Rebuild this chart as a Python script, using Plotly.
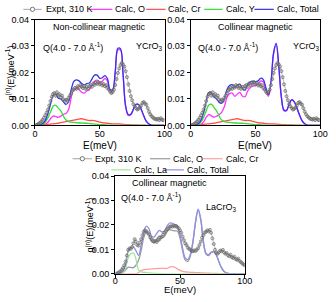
import plotly.graph_objects as go

# ---------------- data ----------------
E_calc = list(range(0, 101, 2))

# Non-collinear YCrO3
nc_O = [0, 0, 0, 0.0001, 0.0004, 0.0012, 0.0025, 0.0035, 0.0034, 0.003, 0.0035, 0.0042, 0.0045, 0.006, 0.0105,
        0.0135, 0.014, 0.0135, 0.0125, 0.0122, 0.013, 0.0135, 0.015, 0.0167, 0.0171, 0.0163, 0.0167, 0.0177, 0.0167,
        0.0127, 0.013, 0.02, 0.0285, 0.0285, 0.019, 0.007, 0.0038, 0.004, 0.006, 0.0078, 0.0078, 0.006, 0.0035,
        0.0015, 0.0005, 0.0001, 0, 0, 0, 0, 0]
nc_Cr = [0, 0, 0.0001, 0.0002, 0.0003, 0.0004, 0.0005, 0.0006, 0.0007, 0.0008, 0.001, 0.0012, 0.0014, 0.0016,
         0.0018, 0.002, 0.0022, 0.0024, 0.0025, 0.0023, 0.002, 0.0018, 0.0019, 0.0018, 0.0015, 0.0012, 0.001,
         0.0009, 0.0008, 0.0007, 0.0006, 0.0006, 0.0006, 0.0005, 0.0004, 0.0003, 0.0003, 0.0002, 0.0002, 0.0002,
         0.0001, 0.0001, 0.0001, 0, 0, 0, 0, 0, 0, 0, 0]
nc_Y = [0, 0, 0.0001, 0.0004, 0.0012, 0.0028, 0.005, 0.0072, 0.0076, 0.0065, 0.0055, 0.0035, 0.002, 0.0014, 0.0012,
        0.0011, 0.001, 0.0009, 0.0009, 0.0008, 0.0008, 0.0007, 0.0006, 0.0005, 0.0004, 0.0003, 0.0003, 0.0002,
        0.0001, 0.0001, 0, 0, 0, 0, 0, 0, 0, 0, 0, 0, 0, 0, 0, 0, 0, 0, 0, 0, 0, 0, 0]
nc_Total = [0, 0, 0.0002, 0.0007, 0.0019, 0.0044, 0.008, 0.0113, 0.0117, 0.0103, 0.01, 0.0089, 0.0079, 0.009,
            0.0135, 0.0166, 0.0172, 0.0168, 0.0159, 0.0153, 0.0158, 0.016, 0.0175, 0.019, 0.019, 0.0178, 0.018,
            0.0188, 0.0176, 0.0135, 0.0136, 0.0206, 0.0291, 0.029, 0.0194, 0.0073, 0.0041, 0.0042, 0.0062, 0.008,
            0.0079, 0.0061, 0.0036, 0.0015, 0.0005, 0.0001, 0, 0, 0, 0, 0]

# Collinear YCrO3
c_O = [0, 0, 0, 0.0001, 0.0004, 0.0013, 0.003, 0.0041, 0.0036, 0.0031, 0.0035, 0.004, 0.005, 0.007, 0.0105, 0.012,
       0.0122, 0.011, 0.0118, 0.0125, 0.011, 0.0108, 0.013, 0.0142, 0.0148, 0.015, 0.0155, 0.0167, 0.0165, 0.0135,
       0.011, 0.016, 0.027, 0.0305, 0.022, 0.0105, 0.0055, 0.0055, 0.008, 0.0095, 0.0088, 0.0065, 0.0038, 0.0017,
       0.0006, 0.0001, 0, 0, 0, 0, 0]
c_Cr = [0, 0, 0.0001, 0.0002, 0.0003, 0.0004, 0.0005, 0.0006, 0.0007, 0.0008, 0.001, 0.0012, 0.0014, 0.0016,
        0.0018, 0.002, 0.0022, 0.0024, 0.0025, 0.0023, 0.002, 0.0018, 0.0019, 0.0018, 0.0015, 0.0012, 0.001,
        0.0009, 0.0008, 0.0007, 0.0006, 0.0006, 0.0006, 0.0005, 0.0004, 0.0003, 0.0003, 0.0002, 0.0002, 0.0002,
        0.0001, 0.0001, 0.0001, 0, 0, 0, 0, 0, 0, 0, 0]
c_Y = [0, 0, 0.0001, 0.0004, 0.0013, 0.003, 0.0055, 0.0077, 0.008, 0.0068, 0.0055, 0.0035, 0.002, 0.0014, 0.0012,
       0.0011, 0.001, 0.0009, 0.0009, 0.0008, 0.0008, 0.0007, 0.0006, 0.0005, 0.0004, 0.0003, 0.0003, 0.0002,
       0.0001, 0.0001, 0, 0, 0, 0, 0, 0, 0, 0, 0, 0, 0, 0, 0, 0, 0, 0, 0, 0, 0, 0, 0]
c_Total = [0, 0, 0.0002, 0.0007, 0.002, 0.0047, 0.009, 0.0124, 0.0123, 0.0107, 0.01, 0.0087, 0.0084, 0.01, 0.0135,
           0.0151, 0.0154, 0.0143, 0.0152, 0.0156, 0.0138, 0.0133, 0.0155, 0.0165, 0.0167, 0.0165, 0.0168, 0.0178,
           0.0174, 0.0143, 0.0116, 0.0166, 0.0276, 0.031, 0.0224, 0.0108, 0.0058, 0.0057, 0.0082, 0.0097, 0.0089,
           0.0066, 0.0039, 0.0017, 0.0006, 0.0001, 0, 0, 0, 0, 0]

# Collinear LaCrO3
la_O = [0, 0.0001, 0.0002, 0.0006, 0.0015, 0.0027, 0.0026, 0.0025, 0.0035, 0.0055, 0.0094, 0.0147, 0.0172, 0.0162,
        0.0132, 0.0127, 0.0142, 0.0155, 0.0148, 0.0153, 0.0173, 0.0181, 0.0178, 0.0176, 0.0175, 0.0146, 0.0095,
        0.0057, 0.0051, 0.0074, 0.0129, 0.021, 0.026, 0.0221, 0.0131, 0.0082, 0.0075, 0.0086, 0.009, 0.0076,
        0.0049, 0.0024, 0.0009, 0.0003, 0.0001, 0, 0, 0, 0, 0, 0]
la_Cr = [0, 0, 0, 0, 0, 0, 0, 0, 0, 0.0005, 0.0013, 0.0017, 0.0018, 0.0019, 0.002, 0.0021, 0.0021, 0.0022, 0.0023,
         0.0022, 0.0022, 0.0027, 0.0029, 0.0026, 0.002, 0.0014, 0.001, 0.0008, 0.0007, 0.0006, 0.0006, 0.0005,
         0.0005, 0.0004, 0.0004, 0.0003, 0.0003, 0.0002, 0.0002, 0.0002, 0.0001, 0.0001, 0.0001, 0, 0, 0, 0, 0, 0,
         0, 0]
la_La = [0, 0, 0.0001, 0.0006, 0.0025, 0.0065, 0.0082, 0.0085, 0.006, 0.0015, 0.0008, 0.0006, 0.0005, 0.0004,
         0.0003, 0.0002, 0.0002, 0.0001, 0.0001, 0, 0, 0, 0, 0, 0, 0, 0, 0, 0, 0, 0, 0, 0, 0, 0, 0, 0, 0, 0, 0, 0,
         0, 0, 0, 0, 0, 0, 0, 0, 0, 0]
la_Total = [0, 0.0001, 0.0003, 0.0012, 0.004, 0.0092, 0.0108, 0.011, 0.0095, 0.0075, 0.0115, 0.017, 0.0195, 0.0185,
            0.0155, 0.015, 0.0165, 0.0178, 0.0172, 0.0175, 0.0195, 0.0208, 0.0207, 0.0202, 0.0195, 0.016, 0.0105,
            0.0065, 0.0058, 0.008, 0.0135, 0.0215, 0.0265, 0.0225, 0.0135, 0.0085, 0.0078, 0.0088, 0.0092, 0.0078,
            0.005, 0.0025, 0.001, 0.0003, 0.0001, 0, 0, 0, 0, 0, 0]

# Experiment, 310 K
E_y_expt = list(range(1, 100))
y_expt = [0.0001, 0.0003, 0.0006, 0.001, 0.0015, 0.0021, 0.0029, 0.0038, 0.0048, 0.006, 0.0075, 0.0092, 0.0108,
          0.0118, 0.0122, 0.0112, 0.0125, 0.0113, 0.0118, 0.0106, 0.0112, 0.0098, 0.0092, 0.0097, 0.0093, 0.0104,
          0.0112, 0.0121, 0.0132, 0.0136, 0.0142, 0.0138, 0.0148, 0.0143, 0.0152, 0.0147, 0.0141, 0.0149, 0.0138,
          0.0145, 0.0139, 0.0148, 0.0152, 0.0146, 0.0158, 0.0153, 0.0161, 0.0157, 0.0163, 0.0155, 0.0159, 0.0151,
          0.0156, 0.0148, 0.0152, 0.0141, 0.0136, 0.0128, 0.0122, 0.0126, 0.0135, 0.0152, 0.0175, 0.0198, 0.0215,
          0.0228, 0.0236, 0.023, 0.0222, 0.0205, 0.0182, 0.0155, 0.013, 0.011, 0.0095, 0.008, 0.0072, 0.0065,
          0.006, 0.0063, 0.0068, 0.0075, 0.0085, 0.0088, 0.0082, 0.0078, 0.0065, 0.0052, 0.0042, 0.0035, 0.003,
          0.0026, 0.0024, 0.0022, 0.0025, 0.002, 0.0027, 0.0022, 0.002]
E_la_expt = list(range(1, 101))
la_expt = [0.0001, 0.0003, 0.0006, 0.001, 0.0016, 0.0024, 0.0035, 0.005, 0.0075, 0.0098, 0.0104, 0.0102, 0.011,
           0.0125, 0.0142, 0.0132, 0.0118, 0.0115, 0.0128, 0.0142, 0.0158, 0.0172, 0.0178, 0.0174, 0.0168, 0.0162,
           0.015, 0.0142, 0.0136, 0.0132, 0.0135, 0.013, 0.0138, 0.0141, 0.0148, 0.0152, 0.0161, 0.0168, 0.0175,
           0.0182, 0.0186, 0.0192, 0.0195, 0.0193, 0.0197, 0.0194, 0.0196, 0.0191, 0.0186, 0.0178, 0.0168, 0.0152,
           0.0138, 0.0125, 0.0118, 0.0108, 0.0102, 0.0098, 0.0094, 0.0092, 0.0096, 0.0093, 0.0099, 0.0105, 0.0118,
           0.0132, 0.0148, 0.0158, 0.0168, 0.0172, 0.0178, 0.0174, 0.018, 0.0168, 0.0145, 0.0122, 0.0098, 0.0085,
           0.0082, 0.0088, 0.0095, 0.0092, 0.0098, 0.0088, 0.0082, 0.0085, 0.0076, 0.0072, 0.0078, 0.0068, 0.0065,
           0.007, 0.006, 0.0057, 0.0062, 0.0052, 0.0048, 0.0043, 0.0038, 0.0035]

x_ticks = [0, 50, 100]
y_ticks = [0.00, 0.01, 0.02, 0.03, 0.04]

# ---------------- figure ----------------
W, H = 336, 302
FONT = "Liberation Sans, Arial, sans-serif"

def px(x):
    return x / W

def py(y):
    return 1 - y / H

fig = go.Figure()

top_cols = dict(O="#ff33ff", Cr="#ff4d4d", X="#33dd33", Total="#3333ee")
bot_cols = dict(O="#9a9a9a", Cr="#ff9f9f", X="#9be89b", Total="#8f8fe8")

def add_panel(ax, O, Cr, X, Tot, Ex, Ey, cols, err):
    xa = "x" + ("" if ax == 1 else str(ax))
    ya = "y" + ("" if ax == 1 else str(ax))
    for ys, c in ((O, cols["O"]), (Cr, cols["Cr"]), (X, cols["X"]), (Tot, cols["Total"])):
        fig.add_trace(go.Scatter(x=E_calc, y=ys, mode="lines", line=dict(color=c, width=1.3, shape="spline"),
                                 xaxis=xa, yaxis=ya, showlegend=False, hoverinfo="skip"))
    fig.add_trace(go.Scatter(x=Ex, y=Ey, mode="lines+markers",
                             line=dict(color="#a0a0a0", width=0.7),
                             marker=dict(symbol="circle-open", size=3, color="#666666", line=dict(width=0.7)),
                             error_y=dict(type="constant", value=err, color="#8a8a8a", thickness=0.6, width=0),
                             xaxis=xa, yaxis=ya, showlegend=False, hoverinfo="skip"))

add_panel(1, nc_O, nc_Cr, nc_Y, nc_Total, E_y_expt, y_expt, top_cols, 0.0007)
add_panel(2, c_O, c_Cr, c_Y, c_Total, E_y_expt, y_expt, top_cols, 0.0007)
add_panel(3, la_O, la_Cr, la_La, la_Total, E_la_expt, la_expt, bot_cols, 0.0004)

axis_common = dict(range=[0, 100], tickvals=x_ticks, ticks="outside", ticklen=3, tickwidth=1, tickcolor="black",
                   showline=True, linecolor="black", linewidth=1, mirror=True, showgrid=False, zeroline=False,
                   tickfont=dict(size=9, color="black", family=FONT))
yaxis_common = dict(range=[0, 0.04], tickvals=y_ticks, tickformat=".2f", ticks="outside", ticklen=3, tickwidth=1,
                    tickcolor="black", showline=True, linecolor="black", linewidth=1, mirror=True, showgrid=False,
                    zeroline=False, tickfont=dict(size=9, color="black", family=FONT))

top_y = [py(124.5), py(15)]
bot_y = [py(278), py(177)]
fig.update_layout(
    xaxis=dict(domain=[px(33), px(167)], anchor="y", ticklabelstandoff=-3, **axis_common),
    yaxis=dict(domain=top_y, anchor="x", **yaxis_common),
    xaxis2=dict(domain=[px(194), px(328)], anchor="y2", ticklabelstandoff=-3, **axis_common),
    yaxis2=dict(domain=top_y, anchor="x2", **yaxis_common),
    xaxis3=dict(domain=[px(116), px(250)], anchor="y3", ticklabelstandoff=-5, **axis_common),
    yaxis3=dict(domain=bot_y, anchor="x3", **yaxis_common),
)

ann = []
def text(x, y, s, size=9, xanchor="left", angle=0, yanchor="middle"):
    ann.append(dict(x=px(x), y=py(y), xref="paper", yref="paper", text=s, showarrow=False, xanchor=xanchor,
                    yanchor=yanchor, textangle=angle, font=dict(size=size, color="black", family=FONT)))

ytitle = "g<sup>(n)</sup>(E)(meV<sup>-1</sup>)"
# panel labels
text(100, 23, "Non-collinear magnetic", xanchor="center")
text(39, 43, "Q(4.0 - 7.0 Å<sup>-1</sup>)")
text(135, 43, "YCrO<sub>3</sub>")
text(261, 23, "Collinear magnetic", xanchor="center")
text(200, 43, "Q(4.0 - 7.0 Å<sup>-1</sup>)")
text(298, 43, "YCrO<sub>3</sub>")
text(172, 184, "Collinear magnetic", xanchor="center")
text(120, 199, "Q(4.0 - 7.0 Å<sup>-1</sup>)")
text(208, 209, "LaCrO<sub>3</sub>")
# axis titles
text(7, 70, ytitle, xanchor="center", angle=-90)
text(90, 228, ytitle, xanchor="center", angle=-90)
text(100, 145, "E(meV)", size=10, xanchor="center")
text(261, 145, "E(meV)", size=10, xanchor="center")
text(183, 302, "E(meV)", size=9.5, xanchor="center", yanchor="bottom")

shapes = []
def leg_line(x0, x1, y, color, marker=False):
    shapes.append(dict(type="line", xref="paper", yref="paper", x0=px(x0), x1=px(x1), y0=py(y), y1=py(y),
                       line=dict(color=color, width=1.2 if not marker else 0.8)))
    if marker:
        xc = (x0 + x1) / 2
        shapes.append(dict(type="circle", xref="paper", yref="paper", x0=px(xc - 2.2), x1=px(xc + 2.2),
                           y0=py(y + 2.2), y1=py(y - 2.2), fillcolor="white", line=dict(color="#555555", width=0.8)))

# top legend
ly = 4.5
leg_line(21, 40, ly, "#8c8c8c", marker=True); text(42, ly, "Expt, 310 K")
leg_line(90, 113, ly, top_cols["O"]); text(114, ly, "Calc, O")
leg_line(148, 168, ly, top_cols["Cr"]); text(169, ly, "Calc, Cr")
leg_line(208, 227, ly, top_cols["X"]); text(228, ly, "Calc, Y")
leg_line(260, 280, ly, top_cols["Total"]); text(281, ly, "Calc, Total")
# bottom legend
l1, l2 = 159, 170.5
leg_line(72, 92, l1, "#8c8c8c", marker=True); text(93, l1, "Expt, 310 K")
leg_line(152, 173, l1, bot_cols["O"]); text(174, l1, "Calc, O")
leg_line(207, 227, l1, bot_cols["Cr"]); text(228, l1, "Calc, Cr")
leg_line(112, 132, l2, bot_cols["X"]); text(133, l2, "Calc, La")
leg_line(167, 187, l2, bot_cols["Total"]); text(188, l2, "Calc, Total")

fig.update_layout(width=W, height=H, margin=dict(l=0, r=0, t=0, b=0), paper_bgcolor="white",
                  plot_bgcolor="white", annotations=ann, shapes=shapes, showlegend=False,
                  font=dict(family=FONT, size=9, color="black"))

fig.write_html("out.html", config={"displayModeBar": False},
               post_script="document.body.style.margin='0px';document.body.style.padding='0px';")
